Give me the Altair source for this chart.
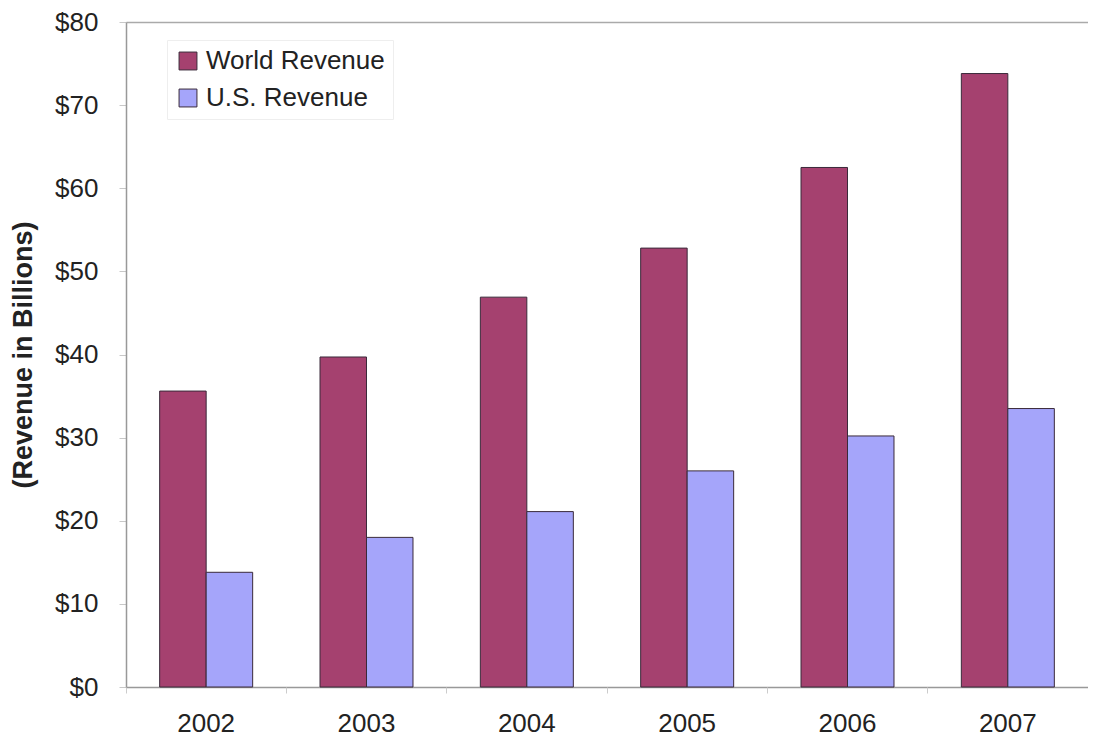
import altair as alt
import pandas as pd

years = ["2002", "2003", "2004", "2005", "2006", "2007"]
world_revenue = [35.6, 39.7, 46.9, 52.8, 62.5, 73.8]
us_revenue = [13.8, 18.0, 21.1, 26.0, 30.2, 33.5]
series = ["World Revenue", "U.S. Revenue"]
colors = ["#A5416F", "#A5A5FA"]
y_ticks = [0, 10, 20, 30, 40, 50, 60, 70, 80]

rows = []
for i, y in enumerate(years):
    rows.append({"year": y, "series": series[0], "value": world_revenue[i]})
    rows.append({"year": y, "series": series[1], "value": us_revenue[i]})
df = pd.DataFrame(rows)
ydf = pd.DataFrame({"year": years})

FONT = "Liberation Sans"
TXT = "#222222"

x_scale = alt.Scale(domain=years, paddingInner=0.42, paddingOuter=0.21)

bars = alt.Chart(df).mark_bar(stroke="#3a2a3a", strokeWidth=1).encode(
    x=alt.X("year:N", scale=x_scale,
            axis=alt.Axis(title=None, orient="bottom", labelAngle=0, ticks=False,
                          labelFontSize=26, labelFont=FONT, labelColor=TXT,
                          labelPadding=23, domainColor="#999", domainWidth=1.5)),
    xOffset=alt.XOffset("series:N", sort=series,
                        scale=alt.Scale(domain=series, paddingInner=0, paddingOuter=0)),
    y=alt.Y("value:Q", scale=alt.Scale(domain=[0, 80], nice=False),
            axis=alt.Axis(title="(Revenue in Billions)", values=y_ticks, format="$,.0f",
                          grid=False, tickSize=7, tickColor="#c8c8c8", labelFontSize=26,
                          labelFont=FONT, labelColor=TXT, labelPadding=21,
                          titleFont=FONT, titleFontSize=27, titleFontWeight="bold",
                          titleColor=TXT, titlePadding=17,
                          domainColor="#999", domainWidth=1.5)),
    color=alt.Color("series:N", sort=series,
                    scale=alt.Scale(domain=series, range=colors),
                    legend=alt.Legend(title=None, orient="none", legendX=41, legendY=18,
                                      symbolType="square", symbolSize=320,
                                      symbolStrokeColor="#3a2a3a", symbolStrokeWidth=1,
                                      labelFont=FONT, labelFontSize=26, labelColor=TXT,
                                      labelLimit=400, rowPadding=11, padding=8,
                                      labelOffset=5,
                                      strokeColor="#eeeeee", fillColor="white")),
)

ticks = alt.Chart(ydf).mark_tick(opacity=0).encode(
    x=alt.X("year:N", scale=x_scale,
            axis=alt.Axis(title=None, orient="bottom", labels=False, ticks=True,
                          tickSize=6, tickColor="#cccccc", bandPosition=-0.362,
                          domain=False)),
)

top = alt.Chart(ydf).mark_tick(opacity=0).encode(
    x=alt.X("year:N", scale=x_scale,
            axis=alt.Axis(title=None, orient="top", labels=False, ticks=False,
                          domain=True, domainColor="#aaa", domainWidth=1.5)),
)

chart = alt.layer(bars, ticks, top).resolve_axis(x="independent").properties(
    width=962, height=665,
    autosize=alt.AutoSizeParams(type="none"),
    padding={"left": 118, "top": 14, "right": 0, "bottom": 50},
).configure_view(stroke=None).configure(background="white")

chart.save("out.html", embed_options={"renderer": "svg", "actions": False})
